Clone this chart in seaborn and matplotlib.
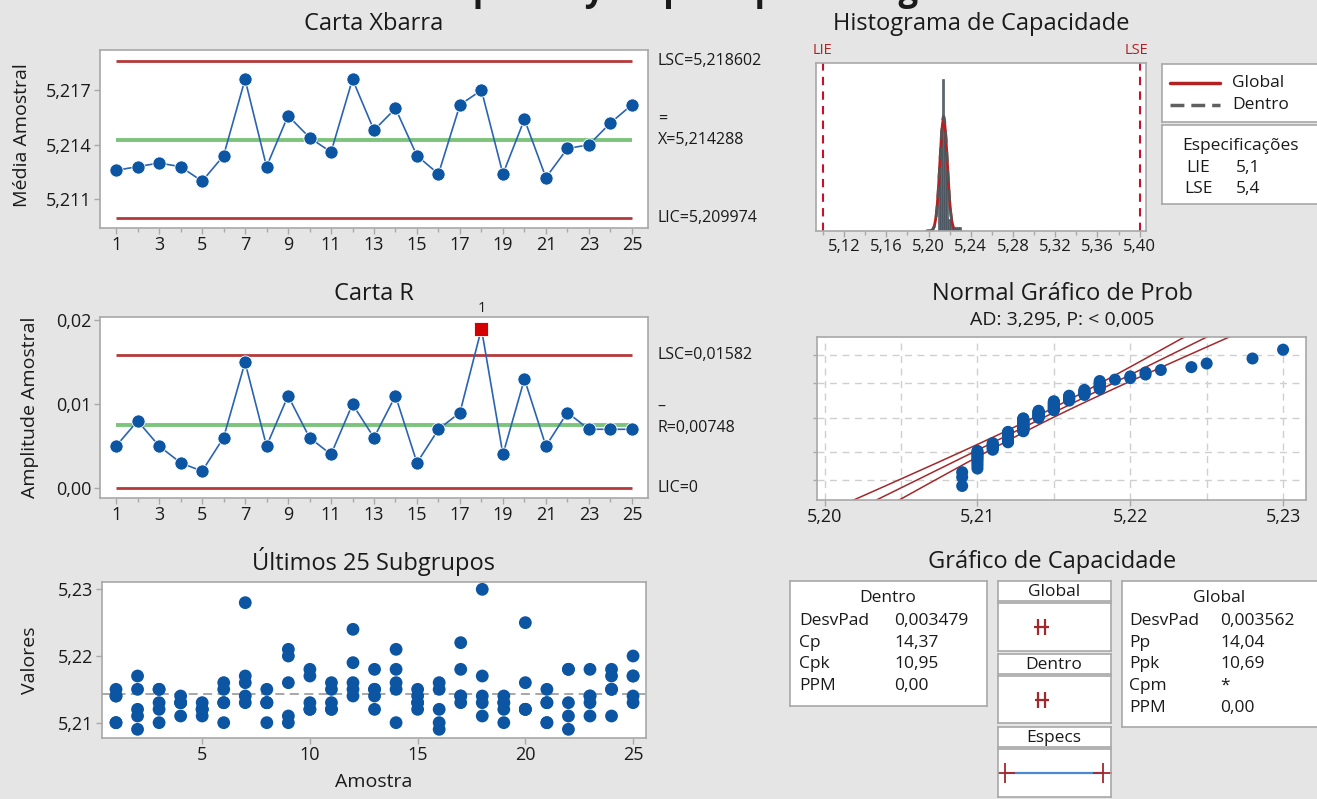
import numpy as np
import pandas as pd
import matplotlib
matplotlib.use("Agg")
import matplotlib.pyplot as plt
import matplotlib.transforms as mtrans
from matplotlib.lines import Line2D
from matplotlib.ticker import FuncFormatter, MultipleLocator, FixedLocator
import seaborn as sns
from statistics import NormalDist

sns.set_style("white")
plt.rcParams["font.family"] = ["Open Sans", "DejaVu Sans"]

amostra = list(range(1, 26))
medias = [5.2126, 5.2128, 5.2130, 5.2128, 5.2120, 5.2134, 5.2176, 5.2128, 5.2156, 5.2144,
          5.2136, 5.2176, 5.2148, 5.2160, 5.2134, 5.2124, 5.2162, 5.2170, 5.2124, 5.2154,
          5.2122, 5.2138, 5.2140, 5.2152, 5.2162]
amplitudes = [0.005, 0.008, 0.005, 0.003, 0.002, 0.006, 0.015, 0.005, 0.011, 0.006,
              0.004, 0.010, 0.006, 0.011, 0.003, 0.007, 0.009, 0.019, 0.004, 0.013,
              0.005, 0.009, 0.007, 0.007, 0.007]
valores = [
    [5.214, 5.214, 5.215, 5.210, 5.210],
    [5.217, 5.215, 5.212, 5.211, 5.209],
    [5.215, 5.215, 5.213, 5.212, 5.210],
    [5.214, 5.213, 5.213, 5.213, 5.211],
    [5.213, 5.212, 5.212, 5.212, 5.211],
    [5.216, 5.215, 5.213, 5.213, 5.210],
    [5.228, 5.217, 5.216, 5.214, 5.213],
    [5.215, 5.213, 5.213, 5.213, 5.210],
    [5.221, 5.220, 5.216, 5.211, 5.210],
    [5.218, 5.217, 5.213, 5.212, 5.212],
    [5.216, 5.215, 5.213, 5.212, 5.212],
    [5.224, 5.219, 5.216, 5.215, 5.214],
    [5.218, 5.215, 5.215, 5.214, 5.212],
    [5.221, 5.218, 5.216, 5.215, 5.210],
    [5.215, 5.214, 5.213, 5.213, 5.212],
    [5.216, 5.215, 5.212, 5.210, 5.209],
    [5.222, 5.218, 5.214, 5.214, 5.213],
    [5.230, 5.217, 5.214, 5.213, 5.211],
    [5.214, 5.213, 5.213, 5.212, 5.210],
    [5.225, 5.216, 5.212, 5.212, 5.212],
    [5.215, 5.213, 5.213, 5.210, 5.210],
    [5.218, 5.218, 5.213, 5.211, 5.209],
    [5.218, 5.214, 5.214, 5.213, 5.211],
    [5.218, 5.217, 5.215, 5.215, 5.211],
    [5.220, 5.217, 5.217, 5.214, 5.213],
]

lsc_x, xbarra, lic_x = 5.218602, 5.214288, 5.209974
lsc_r, rbarra, lic_r = 0.01582, 0.00748, 0.0
lie, lse = 5.1, 5.4
desv_dentro, desv_global = 0.003479, 0.003562
dentro_rows = [("DesvPad", "0,003479"), ("Cp", "14,37"), ("Cpk", "10,95"), ("PPM", "0,00")]
global_rows = [("DesvPad", "0,003562"), ("Pp", "14,04"), ("Ppk", "10,69"), ("Cpm", "*"), ("PPM", "0,00")]

df = pd.DataFrame({"Amostra": np.repeat(amostra, 5), "Valor": np.concatenate(valores)})

# colours
BG = "#E5E5E5"
EDGE = "#A8A8A8"
TXT = "#1A1A1A"
RED = "#B5393B"
GREEN = "#7CC47C"
BLUE = "#0B55A3"
BLUE_LN = "#2A64B0"

# font sizes
F_TITLE = 17
F_TICK = 13
F_LAB = 14
F_SIDE = 11.5
F_BOX = 12.5

W, H = 1317, 799
fig = plt.figure(figsize=(W / 100, H / 100), dpi=100, facecolor=BG)


def rect(l, t, r, b):
    return [l / W, 1 - b / H, (r - l) / W, (b - t) / H]


def ftext(x, y, s, **kw):
    kw.setdefault("ha", "center")
    kw.setdefault("va", "center")
    kw.setdefault("color", TXT)
    return fig.text(x / W, 1 - y / H, s, **kw)


def fline(xs, ys, **kw):
    fig.add_artist(Line2D([x / W for x in xs], [1 - y / H for y in ys],
                          transform=fig.transFigure, **kw))


def panel(l, t, r, b):
    ax = fig.add_axes(rect(l, t, r, b))
    ax.set_facecolor("white")
    for s in ax.spines.values():
        s.set_color(EDGE)
        s.set_linewidth(1.2)
    ax.set_xticks([])
    ax.set_yticks([])
    return ax


def comma(fmt):
    return FuncFormatter(lambda v, p: format(v, fmt).replace(".", ","))


def tick_style(ax):
    ax.tick_params(axis="both", which="both", direction="out", color=EDGE,
                   labelcolor=TXT, labelsize=F_TICK, length=4, width=1,
                   bottom=True, left=True, pad=2)
    ax.tick_params(which="minor", length=3)


# main title, cut off at the top edge like the source screenshot
fig.text(210 / W, 1.0, "Relatório de Capability Sixpack para Largura",
         fontsize=25, fontweight="bold", color=TXT, ha="left", va="baseline")


def control_chart(ax, y, lsc, cl, lic):
    ax.hlines([lsc, lic], amostra[0], amostra[-1], color=RED, lw=2)
    ax.hlines(cl, amostra[0], amostra[-1], color=GREEN, lw=2.8)
    sns.lineplot(x=amostra, y=y, ax=ax, color=BLUE_LN, lw=1.2, marker="o",
                 markersize=9.5, markerfacecolor=BLUE, markeredgecolor="white",
                 markeredgewidth=0.6)
    ax.set_xlim(0.25, 25.75)
    ax.xaxis.set_major_locator(FixedLocator(amostra[::2]))
    ax.xaxis.set_minor_locator(FixedLocator(amostra[1::2]))
    tick_style(ax)
    ax.set_xlabel("")
    ax.set_ylabel("")


def side_labels(ax, items):
    tr = mtrans.blended_transform_factory(ax.transAxes, ax.transData)
    for yv, txt, dy in items:
        ax.annotate(txt, xy=(1.018, yv), xycoords=tr, xytext=(0, dy),
                    textcoords="offset points", ha="left", va="center",
                    fontsize=F_SIDE, color=TXT, annotation_clip=False)


# ---- Carta Xbarra ----
ax = panel(100, 50, 648, 228)
control_chart(ax, medias, lsc_x, xbarra, lic_x)
ax.set_ylim(5.20943, 5.21921)
ax.set_yticks([5.211, 5.214, 5.217])
ax.yaxis.set_major_formatter(comma(".3f"))
side_labels(ax, [(lsc_x, "LSC=5,218602", 0), (xbarra, "=", 14),
                 (xbarra, "X=5,214288", 0), (lic_x, "LIC=5,209974", 0)])
ftext(374, 24, "Carta Xbarra", fontsize=F_TITLE)
ftext(22, 135, "Média Amostral", fontsize=F_LAB, rotation=90)

# ---- Carta R ----
ax = panel(100, 317, 648, 498)
control_chart(ax, amplitudes, lsc_r, rbarra, lic_r)
fora = [(a, r) for a, r in zip(amostra, amplitudes) if r > lsc_r]
ax.scatter([a for a, r in fora], [r for a, r in fora], marker="s", s=100, color="#D40000",
           edgecolor="white", linewidth=0.6, zorder=5)
for a, r in fora:
    ax.annotate("1", xy=(a, r), xytext=(0, 9), textcoords="offset points", ha="center",
                va="bottom", fontsize=10.5, color=TXT, annotation_clip=False)
ax.set_ylim(-0.0012, 0.0204)
ax.set_yticks([0.0, 0.01, 0.02])
ax.yaxis.set_major_formatter(comma(".2f"))
side_labels(ax, [(lsc_r, "LSC=0,01582", 0), (rbarra, "–", 13),
                 (rbarra, "R=0,00748", -2), (lic_r, "LIC=0", 0)])
ftext(374, 294, "Carta R", fontsize=F_TITLE)
ftext(30, 407, "Amplitude Amostral", fontsize=F_LAB, rotation=90)

# ---- Últimos 25 Subgrupos ----
ax = panel(102, 582, 646, 738)
ax.axhline(xbarra, color="#A0A0A0", lw=1.3, ls=(0, (5, 3)))
sns.scatterplot(data=df, x="Amostra", y="Valor", ax=ax, color=BLUE, s=85, edgecolor="none", zorder=3)
ax.set_xlim(0.35, 25.6)
ax.set_ylim(5.2077, 5.2311)
ax.set_xticks([5, 10, 15, 20, 25])
ax.set_yticks([5.21, 5.22, 5.23])
ax.yaxis.set_major_formatter(comma(".2f"))
tick_style(ax)
ax.set_xlabel("")
ax.set_ylabel("")
ftext(374, 562, "Últimos 25 Subgrupos", fontsize=F_TITLE)
ftext(30, 660, "Valores", fontsize=F_LAB, rotation=90)
ftext(374, 782, "Amostra", fontsize=F_LAB)

# ---- Histograma de Capacidade ----
ax = panel(816, 63, 1146, 231)
sns.histplot(data=df, x="Valor", binwidth=0.002, binrange=(5.2085, 5.2325), stat="density",
             color="#5A6876", edgecolor="#3C4650", linewidth=0.4, alpha=1, ax=ax)
xs = np.linspace(xbarra - 4.5 * desv_global, xbarra + 4.5 * desv_global, 300)
sns.lineplot(x=xs, y=[NormalDist(xbarra, desv_global).pdf(v) for v in xs], ax=ax, color="#B22222", lw=2)
sns.lineplot(x=xs, y=[NormalDist(xbarra, desv_dentro).pdf(v) for v in xs], ax=ax, color="#555555",
             lw=2, linestyle=(0, (4, 3)))
ax.axvline(lie, color="#C8102E", lw=1.5, ls=(0, (4, 3)))
ax.axvline(lse, color="#C8102E", lw=1.5, ls=(0, (4, 3)))
ax.set_xlim(5.0934, 5.406)
ax.set_ylim(0, 168)
ax.set_xticks(np.round(np.arange(5.12, 5.401, 0.04), 2))
ax.xaxis.set_minor_locator(FixedLocator(np.round(np.arange(5.10, 5.39, 0.04), 2)))
ax.xaxis.set_major_formatter(comma(".2f"))
tick_style(ax)
ax.tick_params(axis="x", labelsize=12)
ax.tick_params(axis="y", left=False)
ax.set_yticks([])
ax.set_xlabel("")
ax.set_ylabel("")
ftext(822, 51, "LIE", fontsize=10.5, color="#B22222")
ftext(1136, 51, "LSE", fontsize=10.5, color="#B22222")
ftext(981, 24, "Histograma de Capacidade", fontsize=F_TITLE)

# legend + spec boxes
panel(1162, 64, 1340, 122)
fline([1170, 1220], [83, 83], color="#B22222", lw=2.5)
fline([1170, 1220], [105, 105], color="#606060", lw=2.5, ls=(0, (4, 2)))
ftext(1232, 83, "Global", fontsize=F_BOX, ha="left")
ftext(1232, 105, "Dentro", fontsize=F_BOX, ha="left")
panel(1162, 125, 1340, 204)
ftext(1240, 146, "Especificações", fontsize=F_BOX)
ftext(1198, 168, "LIE", fontsize=F_BOX)
ftext(1248, 168, "5,1", fontsize=F_BOX)
ftext(1198, 189, "LSE", fontsize=F_BOX)
ftext(1248, 189, "5,4", fontsize=F_BOX)

# ---- Normal Gráfico de Prob ----
ax = panel(817, 337, 1306, 500)
ordenado = np.sort(df["Valor"].values)
n = len(ordenado)
nd = NormalDist()
zq = [nd.inv_cdf((i - 0.3) / (n + 0.4)) for i in range(1, n + 1)]
zz = np.linspace(-3.4, 3.4, 60)
centro = xbarra + zz * desv_global
meia = 1.96 * desv_global * np.sqrt(1 / n + zz ** 2 / (2 * n))
for linha in (centro - meia, centro, centro + meia):
    ax.plot(linha, zz, color="#A3282B", lw=1.1)
sns.scatterplot(x=ordenado, y=zq, ax=ax, color=BLUE, s=75, edgecolor="none", zorder=3)
ax.set_xlim(5.1995, 5.2315)
ax.set_ylim(-3.06, 3.01)
ax.set_xticks([5.20, 5.21, 5.22, 5.23])
ax.xaxis.set_minor_locator(MultipleLocator(0.005))
ax.xaxis.set_major_formatter(comma(".2f"))
ax.set_yticks([nd.inv_cdf(p) for p in (0.01, 0.1, 0.5, 0.9, 0.99)])
ax.set_yticklabels([])
ax.grid(True, which="both", color="#CFCFCF", lw=1, ls=(0, (5, 4)))
ax.set_axisbelow(True)
tick_style(ax)
ax.tick_params(axis="x", which="minor", length=0)
ax.tick_params(axis="y", length=3)
ax.set_xlabel("")
ax.set_ylabel("")
ftext(1062, 294, "Normal Gráfico de Prob", fontsize=F_TITLE)
ftext(1062, 320, "AD: 3,295, P: < 0,005", fontsize=14)

# ---- Gráfico de Capacidade ----
ftext(1052, 562, "Gráfico de Capacidade", fontsize=F_TITLE)
panel(790, 581, 987, 706)
ftext(888, 598, "Dentro", fontsize=F_BOX)
for k, (lab, val) in enumerate(dentro_rows):
    ftext(799, 621 + 21.7 * k, lab, fontsize=F_BOX, ha="left")
    ftext(894, 621 + 21.7 * k, val, fontsize=F_BOX, ha="left")
panel(1122, 581, 1340, 727)
ftext(1219, 598, "Global", fontsize=F_BOX)
for k, (lab, val) in enumerate(global_rows):
    ftext(1129, 621 + 21.7 * k, lab, fontsize=F_BOX, ha="left")
    ftext(1220, 621 + 21.7 * k, val, fontsize=F_BOX, ha="left")

for (t, b, label) in [(581, 601, "Global"), (654, 674, "Dentro"), (727, 747, "Especs")]:
    panel(998, t, 1111, b)
    ftext(1054, (t + b) / 2 + 1, label, fontsize=F_BOX)

for (t, b, sd) in [(603, 651, desv_global), (676, 723, desv_dentro)]:
    ax = panel(998, t, 1111, b)
    ax.set_xlim(5.08, 5.426)
    ax.set_ylim(0, 1)
    ax.hlines(0.5, xbarra - 3 * sd - 0.012, xbarra + 3 * sd + 0.012, color="#A3282B", lw=1.6)
    ax.plot([xbarra - 3 * sd, xbarra + 3 * sd], [0.5, 0.5], ls="none", marker="|",
            markersize=12, mew=1.6, color="#A3282B")

ax = panel(998, 749, 1111, 797)
ax.set_xlim(5.08, 5.426)
ax.set_ylim(0, 1)
ax.plot([lie, lse], [0.5, 0.5], color="#4A8AD0", lw=1.6)
ax.plot([lie, lse], [0.5, 0.5], ls="none", marker="+", markersize=14, mew=1.3, color="#A3282B")

fig.savefig("out.png", dpi=100, facecolor=BG)
